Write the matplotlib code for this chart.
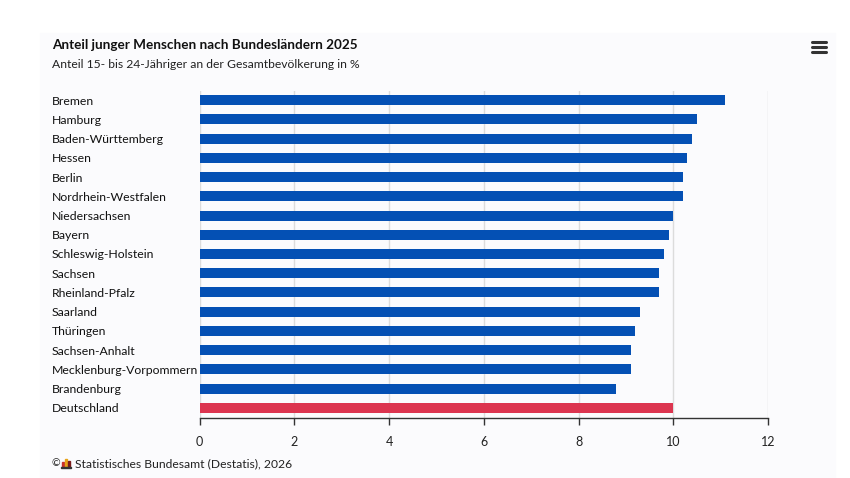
import matplotlib.pyplot as plt
from matplotlib.patches import Rectangle
from matplotlib.lines import Line2D

plt.rcParams['font.family'] = ['Lato', 'DejaVu Sans']

# Data
laender = [
    "Bremen", "Hamburg", "Baden-Württemberg", "Hessen", "Berlin",
    "Nordrhein-Westfalen", "Niedersachsen", "Bayern", "Schleswig-Holstein",
    "Sachsen", "Rheinland-Pfalz", "Saarland", "Thüringen", "Sachsen-Anhalt",
    "Mecklenburg-Vorpommern", "Brandenburg", "Deutschland",
]
anteil = [11.1, 10.5, 10.4, 10.3, 10.2, 10.2, 10.0, 9.9, 9.8,
          9.7, 9.7, 9.3, 9.2, 9.1, 9.1, 8.8, 10.0]
x_ticks = [0, 2, 4, 6, 8, 10, 12]

title = "Anteil junger Menschen nach Bundesländern 2025"
subtitle = "Anteil 15- bis 24-Jähriger an der Gesamtbevölkerung in %"
source = "Statistisches Bundesamt (Destatis), 2026"

blue = "#0450b4"
red = "#dc3550"
bg = "#fbfbfd"

W, H = 850, 478
fig = plt.figure(figsize=(W / 100, H / 100), dpi=100)
fig.patch.set_facecolor("white")
# light panel behind the chart
fig.patches.append(Rectangle((40 / W, 0), 795 / W, 1 - 33 / H,
                             transform=fig.transFigure, color=bg, zorder=-10))

ax = fig.add_axes([199.5 / W, 1 - 417.5 / H, (768 - 199.5) / W, (417.5 - 90.5) / H])
ax.set_facecolor("none")

colors = [red if name == "Deutschland" else blue for name in laender]
ypos = list(range(len(laender)))
ax.barh(ypos, anteil, height=0.52, color=colors, zorder=3)

ax.set_xlim(0, 12)
ax.set_ylim(len(laender) - 0.5, -0.5)
ax.set_xticks(x_ticks)
ax.set_xticklabels([str(t) for t in x_ticks], fontsize=9, color="#222222")
ax.set_yticks(ypos)
ax.set_yticklabels(laender, fontsize=8.8, color="#111111")
for lab in ax.get_yticklabels():
    lab.set_horizontalalignment("left")
ax.tick_params(axis="y", length=0, pad=(199.5 - 52) * 72 / 100)
ax.tick_params(axis="x", length=5, width=1, color="#333333", pad=8)

ax.grid(axis="x", color="#dcdcdc", linewidth=1, zorder=0)
for s in ["top", "right", "left"]:
    ax.spines[s].set_visible(False)
ax.spines["bottom"].set_color("#333333")
ax.spines["bottom"].set_linewidth(1)

fig.text(52 / W, 1 - 45 / H, title, fontsize=9.7, fontweight="bold",
         color="#111111", va="center", ha="left")
fig.text(52 / W, 1 - 65 / H, subtitle, fontsize=8.7, color="#222222",
         va="center", ha="left")

# source line with small logo
fig.text(51.5 / W, 1 - 464 / H, "©", fontsize=7.5, color="#222222", va="center", ha="left")
for dx, h, c in [(0, 5, "#c8312b"), (3, 8, "#e8a317"), (6, 6, "#7a1c1c")]:
    fig.patches.append(Rectangle(((62 + dx) / W, (478 - 467) / H), 2 / W, h / H,
                                 transform=fig.transFigure, color=c))
fig.patches.append(Rectangle((61 / W, (478 - 468) / H), 10 / W, 1 / H,
                             transform=fig.transFigure, color="#333333"))
fig.text(75 / W, 1 - 464 / H, source, fontsize=8.7, color="#222222",
         va="center", ha="left")

# menu icon
for yy in [42, 47, 52]:
    fig.add_artist(Line2D([812 / W, 826 / W], [1 - yy / H, 1 - yy / H],
                          transform=fig.transFigure, color="#333333",
                          linewidth=2.2, solid_capstyle="round"))

fig.savefig("out.png", dpi=100, facecolor=fig.get_facecolor())
